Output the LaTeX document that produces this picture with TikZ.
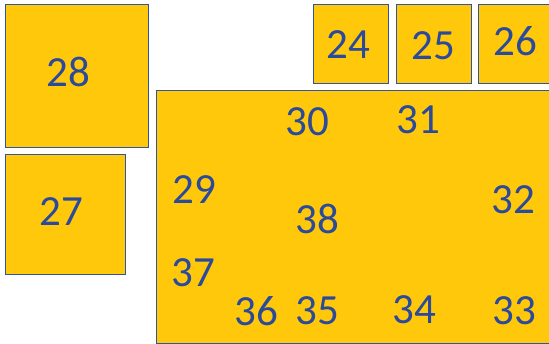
\documentclass[tikz,border=0pt]{standalone}
\usepackage{fontspec}
\setmainfont{Carlito}
\usetikzlibrary{positioning}

\definecolor{boxfill}{HTML}{FFC80A}
\definecolor{boxline}{HTML}{2F55A0}
\definecolor{numtext}{HTML}{2B4A9A}

\begin{document}
\begin{tikzpicture}[
  x=1pt, y=-1pt,
  box/.style={rectangle, draw=boxline, line width=1.3pt, fill=boxfill,
              inner sep=0pt, anchor=north west},
  num/.style={font=\fontsize{43}{43}\selectfont, text=numtext, inner sep=0pt},
]
\useasboundingbox (0,0) rectangle (549,344);
\clip (0,0) rectangle (549,344);

% --- single boxes ---
\node[box, minimum width=143pt, minimum height=143pt] (b28) at (5,4) {};
\node[box, minimum width=120pt, minimum height=120pt] (b27) at (5,154) {};
\node[box, minimum width=75pt, minimum height=79pt] (b24) at (313,4) {};
\node[box, minimum width=75pt, minimum height=79pt] (b25) at (396,4) {};
\node[box, minimum width=90pt, minimum height=79pt] (b26) at (478,4) {};

% --- large room ---
\node[box, minimum width=420pt, minimum height=253pt] (hall) at (156,90) {};

\node[num] (n28) at (68,72) {28};
\node[num] (n27) at (61,212) {27};
\node[num] (n24) at (348,45) {24};
\node[num] (n25) at (433,46) {25};
\node[num] (n26) at (515,41) {26};

\node[num] (n30) at (307,122) {30};
\node[num] (n31) at (418,120) {31};
\node[num] (n29) at (194,190) {29};
\node[num] (n38) at (317,219) {38};
\node[num] (n32) at (513,200) {32};
\node[num] (n37) at (193,273) {37};
\node[num] (n36) at (256,311) {36};
\node[num] (n35) at (317,311) {35};
\node[num] (n34) at (414,310) {34};
\node[num] (n33) at (514,311) {33};

\end{tikzpicture}
\end{document}
